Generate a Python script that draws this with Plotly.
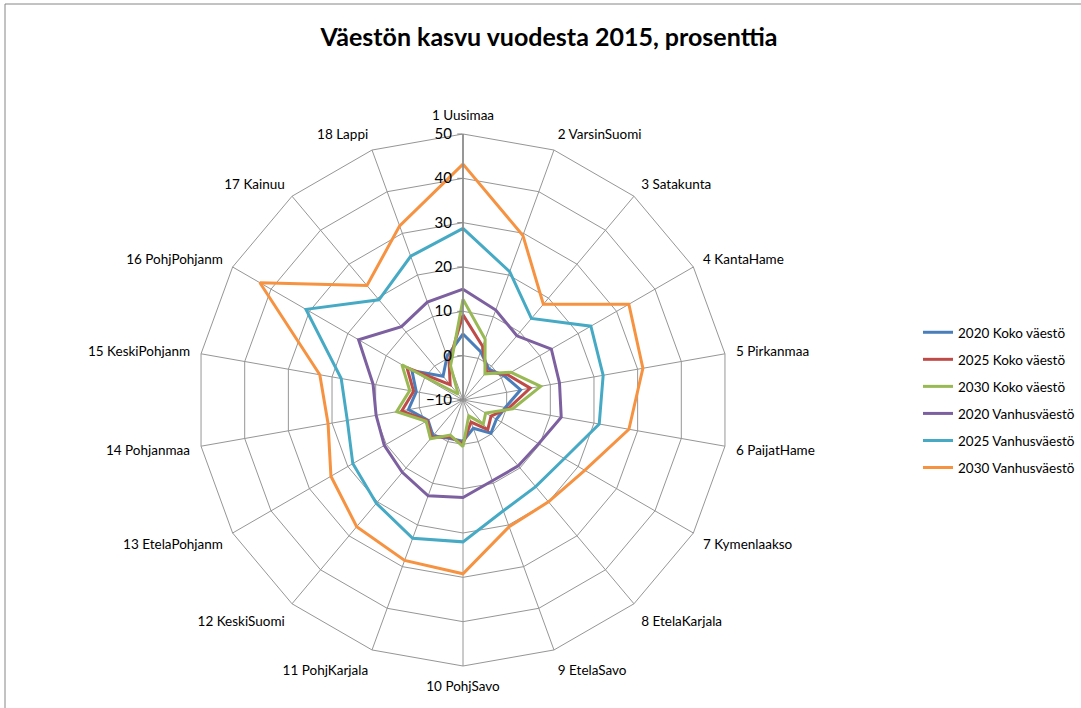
import plotly.graph_objects as go

categories = ["1 Uusimaa", "2 VarsinSuomi", "3 Satakunta", "4 KantaHame", "5 Pirkanmaa",
              "6 PaijatHame", "7 Kymenlaakso", "8 EtelaKarjala", "9 EtelaSavo", "10 PohjSavo",
              "11 PohjKarjala", "12 KeskiSuomi", "13 EtelaPohjanm", "14 Pohjanmaa",
              "15 KeskiPohjanm", "16 PohjPohjanm", "17 Kainuu", "18 Lappi"]

koko_2020 = [4.9, 1.6, -0.9, 0.8, 3.2, -0.3, -1.3, -0.2, -3.2, -0.7, -0.8, 0.5, -0.9, 2.5, 0.7, 3.3, -3.0, 0.5]
koko_2025 = [9.2, 2.9, -1.7, 1.5, 5.4, 0.5, -2.7, -1.3, -4.7, -0.1, -1.2, 1.0, -0.7, 4.0, 1.3, 4.6, -5.5, -0.8]
koko_2030 = [12.7, 4.6, -2.3, 2.5, 7.8, 1.4, -4.1, -2.9, -6.2, 0.5, -1.6, 1.4, -0.4, 5.2, 2.2, 5.9, -8.3, -1.8]
vanhus_2020 = [15.0, 11.6, 8.9, 13.0, 12.1, 12.5, 9.7, 9.4, 9.4, 12.0, 13.0, 11.3, 10.5, 9.9, 10.6, 17.2, 11.6, 13.5]
vanhus_2025 = [28.7, 20.8, 14.0, 23.3, 22.1, 21.2, 16.4, 15.5, 16.6, 22.0, 23.2, 20.4, 18.7, 16.5, 17.9, 30.9, 19.5, 24.5]
vanhus_2030 = [43.2, 29.5, 18.2, 33.2, 31.2, 28.0, 21.7, 20.0, 20.4, 29.2, 28.5, 27.3, 24.4, 20.9, 22.8, 42.9, 23.7, 31.8]

series_names = ["2020 Koko väestö", "2025 Koko väestö", "2030 Koko väestö",
                "2020 Vanhusväestö", "2025 Vanhusväestö", "2030 Vanhusväestö"]
series_values = [koko_2020, koko_2025, koko_2030, vanhus_2020, vanhus_2025, vanhus_2030]
colors = ["#4A7EBB", "#BE4B48", "#98B954", "#7D60A0", "#46AAC5", "#F69240"]

FONT = "Lato"
W, H = 1081, 708
cx, cy, R = 463, 400, 266

fig = go.Figure()
for name, vals, col in zip(series_names, series_values, colors):
    fig.add_trace(go.Scatterpolar(
        r=vals + vals[:1], theta=categories + categories[:1],
        mode="lines", name=name, legendgroup=name,
        line=dict(color=col, width=3),
    ))

fig.update_layout(
    width=W, height=H,
    margin=dict(l=0, r=0, t=0, b=0),
    paper_bgcolor="white",
    font=dict(family=FONT, size=13.5, color="#000000"),
    title=dict(text="<b>Väestön kasvu vuodesta 2015, prosenttia</b>",
               x=549 / W, xanchor="center", y=1 - 37 / H, yanchor="middle",
               font=dict(family=FONT, size=25, color="#000000")),
    polar=dict(
        domain=dict(x=[(cx - R) / W, (cx + R) / W], y=[(H - cy - R) / H, (H - cy + R) / H]),
        bgcolor="white",
        gridshape="linear",
        radialaxis=dict(range=[-10, 50], dtick=10, angle=90, side="counterclockwise",
                        tickangle=90,
                        showline=True, linecolor="#868686", linewidth=1.5,
                        gridcolor="#969696", gridwidth=1,
                        ticks="outside", ticklen=5, tickcolor="#868686",
                        tickfont=dict(family=FONT, size=15, color="#000000")),
        angularaxis=dict(rotation=90, direction="clockwise",
                         showline=True, linecolor="#969696", linewidth=1,
                         gridcolor="#969696", gridwidth=1,
                         ticks="outside", ticklen=8, tickcolor="rgba(0,0,0,0)",
                         tickfont=dict(family=FONT, size=13.5, color="#000000")),
    ),
    legend=dict(x=918 / W, xanchor="left", y=1 - 400 / H, yanchor="middle",
                font=dict(family=FONT, size=13.5, color="#000000"),
                tracegroupgap=6.5, itemwidth=30, bgcolor="rgba(0,0,0,0)"),
    shapes=[
        dict(type="line", xref="paper", yref="paper", x0=5 / W, x1=5 / W, y0=0, y1=1 - 4 / H,
             line=dict(color="#868686", width=1)),
        dict(type="line", xref="paper", yref="paper", x0=5 / W, x1=1, y0=1 - 4 / H, y1=1 - 4 / H,
             line=dict(color="#868686", width=1)),
    ],
)

fig.write_html("out.html", config={"displayModeBar": False},
               post_script="document.body.style.margin='0px';document.body.style.overflow='hidden';")
